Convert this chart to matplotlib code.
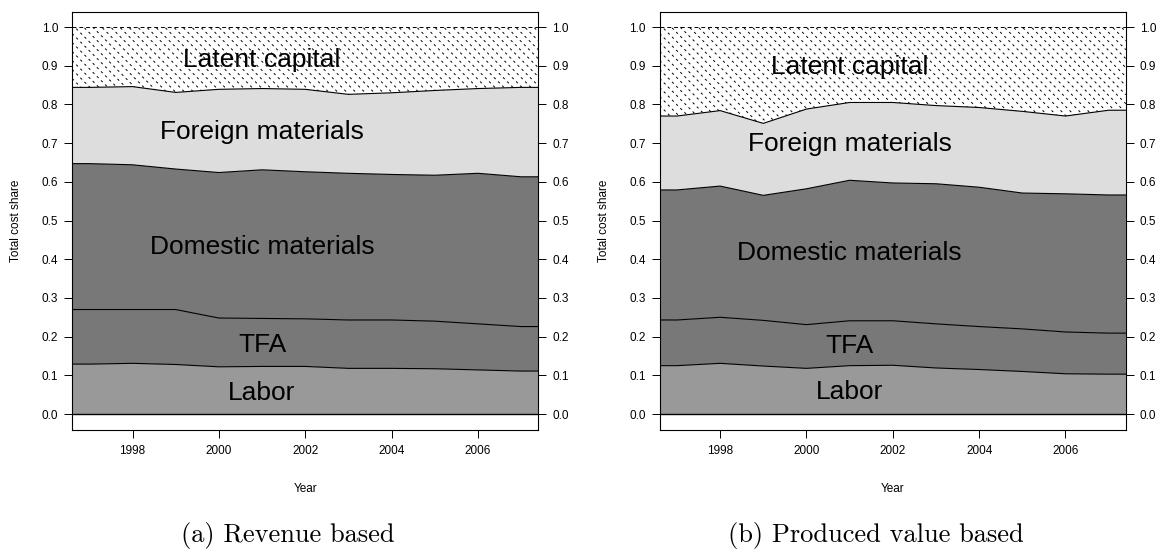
import numpy as np
import matplotlib
matplotlib.use("Agg")
import matplotlib.pyplot as plt
from matplotlib.lines import Line2D

plt.rcParams["font.family"] = ["Liberation Sans", "DejaVu Sans"]

years = np.arange(1997, 2008)
x_ticks = [1998, 2000, 2002, 2004, 2006]
y_ticks = [0.0, 0.1, 0.2, 0.3, 0.4, 0.5, 0.6, 0.7, 0.8, 0.9, 1.0]
layer_names = ["Labor", "TFA", "Domestic materials", "Foreign materials"]
latent_name = "Latent capital"

# (a) revenue based cost shares
rev_labor = [0.129, 0.131, 0.128, 0.122, 0.123, 0.123, 0.118, 0.118, 0.117, 0.114, 0.111]
rev_tfa = [0.141, 0.139, 0.142, 0.126, 0.124, 0.123, 0.125, 0.125, 0.123, 0.119, 0.115]
rev_domestic = [0.377, 0.374, 0.363, 0.376, 0.384, 0.380, 0.379, 0.376, 0.377, 0.389, 0.387]
rev_foreign = [0.197, 0.202, 0.198, 0.215, 0.210, 0.213, 0.204, 0.211, 0.219, 0.219, 0.231]

# (b) produced value based cost shares
pv_labor = [0.125, 0.131, 0.124, 0.118, 0.125, 0.126, 0.119, 0.115, 0.110, 0.104, 0.103]
pv_tfa = [0.118, 0.119, 0.118, 0.113, 0.116, 0.115, 0.114, 0.111, 0.110, 0.108, 0.106]
pv_domestic = [0.336, 0.339, 0.323, 0.351, 0.363, 0.356, 0.362, 0.360, 0.351, 0.357, 0.357]
pv_foreign = [0.191, 0.195, 0.186, 0.206, 0.201, 0.208, 0.202, 0.206, 0.211, 0.201, 0.219]

captions = ["(a) Revenue based", "(b) Produced value based"]
label_year = 2001

layer_colors = ["#999999", "#787878", "#787878", "#dddddd"]
TICK_FS = 8.5
LABEL_FS = 19


def draw_panel(ax, shares):
    span = years[-1] - years[0]
    xlim = (years[0] - 0.04 * span, years[-1] + 0.04 * span)
    ax.set_xlim(*xlim)
    ax.set_ylim(-0.04, 1.04)

    layers = np.vstack([np.asarray(s, float) for s in shares])
    tops = np.cumsum(layers, axis=0)
    # extend the first and last year flat out to the plot edges
    xe = np.r_[xlim[0], years, xlim[1]]
    tops_e = np.hstack([tops[:, :1], tops, tops[:, -1:]])

    lower = np.zeros_like(xe, dtype=float)
    for top, col in zip(tops_e, layer_colors):
        ax.fill_between(xe, lower, top, facecolor=col, lw=0, zorder=1)
        ax.plot(xe, top, color="black", lw=0.8, zorder=3)
        lower = top

    # latent capital: white band with dotted diagonal shading
    latent = ax.fill_between(xe, lower, np.ones_like(xe), facecolor="white",
                             lw=0, zorder=1)
    clip = latent.get_paths()[0]
    fig = ax.figure
    fig.canvas.draw()
    bb = ax.get_window_extent()
    w, h = bb.width, bb.height
    step = 9.0  # pixels between shading lines along x
    xs = np.array([0.0, 1.0])
    c = 0.0
    while c < 1.0 + w / h + step / h:
        ln = Line2D(xs, c - xs * w / h, transform=ax.transAxes, color="black",
                    lw=0.7, linestyle=(0, (2.5, 3.5)), zorder=2)
        ax.add_line(ln)
        ln.set_clip_path(clip, ax.transData)
        c += step / h
    ax.plot(xlim, [1.0, 1.0], color="black", lw=0.7,
            linestyle=(0, (4.0, 3.0)), zorder=3)
    ax.plot(xlim, [0.0, 0.0], color="black", lw=1.0, zorder=3)

    # band labels at the middle of each band
    bounds = np.vstack([np.zeros(len(years)), tops, np.ones(len(years))])
    i = list(years).index(label_year)
    names = layer_names + [latent_name]
    cap_half = 0.716 * LABEL_FS / 2
    for k, name in enumerate(names):
        ymid = 0.5 * (bounds[k, i] + bounds[k + 1, i])
        ax.annotate(name, (label_year, ymid), xytext=(0, -cap_half),
                    textcoords="offset points", ha="center", va="baseline",
                    fontsize=LABEL_FS, zorder=5)

    ax.set_xticks(x_ticks)
    ax.set_xticklabels([str(t) for t in x_ticks])
    ax.set_yticks(y_ticks)
    ax.set_yticklabels([f"{t:.1f}" for t in y_ticks])
    ax.tick_params(axis="both", direction="out", length=6, width=0.7,
                   labelsize=TICK_FS, colors="black")
    ax.tick_params(axis="y", pad=4, left=True, right=True,
                   labelleft=True, labelright=True)
    ax.tick_params(axis="x", pad=5)
    for sp in ax.spines.values():
        sp.set_linewidth(0.8)
    ax.set_xlabel("Year", fontsize=TICK_FS, labelpad=19)
    ax.set_ylabel("Total cost share", fontsize=TICK_FS, labelpad=14)


fig = plt.figure(figsize=(11.61, 5.54), dpi=100)
ax_a = fig.add_axes([0.0621, 0.2247, 0.4016, 0.7545])
ax_b = fig.add_axes([0.5682, 0.2247, 0.4016, 0.7545])

draw_panel(ax_a, [rev_labor, rev_tfa, rev_domestic, rev_foreign])
draw_panel(ax_b, [pv_labor, pv_tfa, pv_domestic, pv_foreign])

for ax, cap in zip([ax_a, ax_b], captions):
    fig.text(ax.get_position().x0 + ax.get_position().width / 2 - 0.015, 0.034,
             cap, ha="center", va="center", fontsize=19, family="cmr10")

fig.savefig("out.png", dpi=100)
